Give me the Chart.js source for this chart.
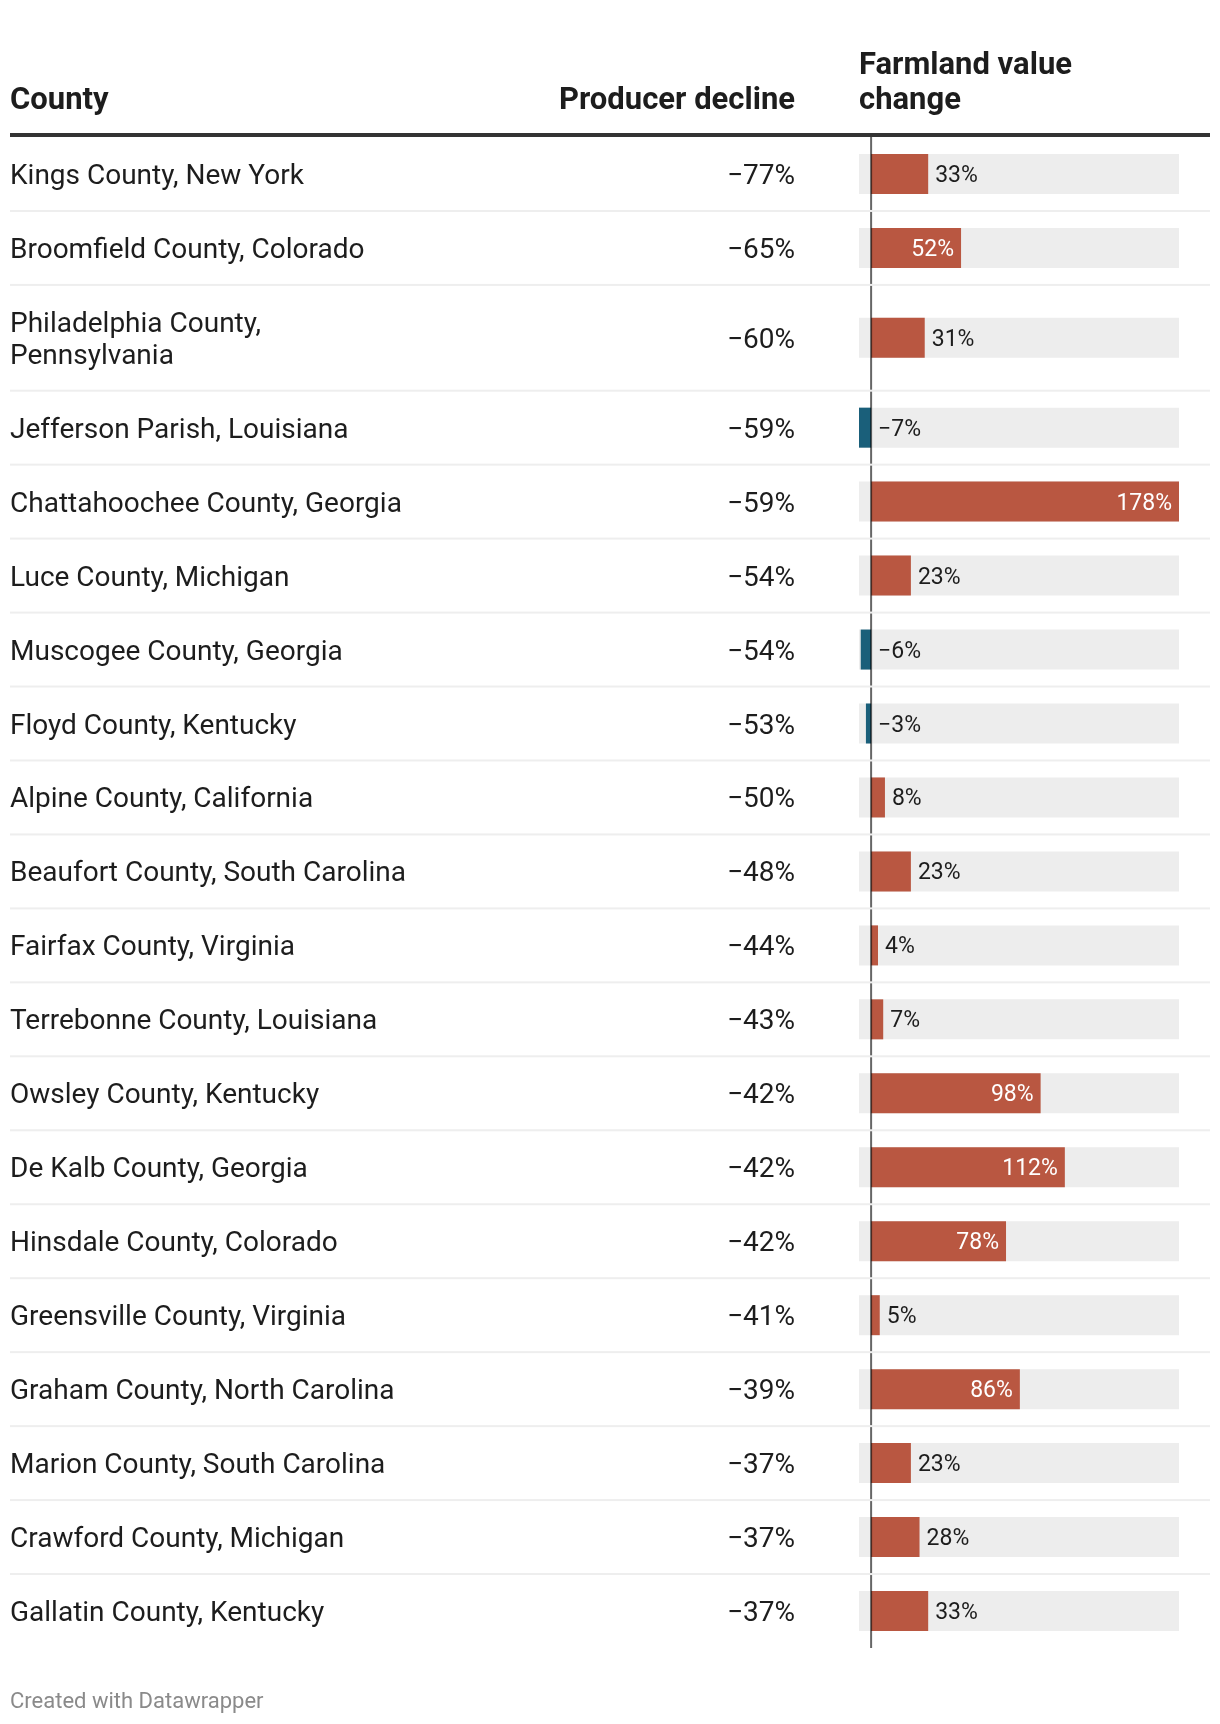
<!DOCTYPE html>
<html>
<head>
<meta charset="utf-8">
<title>Producer decline and farmland value change</title>
<script src="https://cdn.jsdelivr.net/npm/chart.js@4"></script>
<style>
    html, body { margin: 0; padding: 0; background: #ffffff; }
    #wrap { position: relative; width: 1220px; height: 1724px; }
</style>
</head>
<body>
<div id="wrap"><canvas id="table"></canvas></div>
<script>
const counties = [
    "Kings County, New York",
    "Broomfield County, Colorado",
    ["Philadelphia County,", "Pennsylvania"],
    "Jefferson Parish, Louisiana",
    "Chattahoochee County, Georgia",
    "Luce County, Michigan",
    "Muscogee County, Georgia",
    "Floyd County, Kentucky",
    "Alpine County, California",
    "Beaufort County, South Carolina",
    "Fairfax County, Virginia",
    "Terrebonne County, Louisiana",
    "Owsley County, Kentucky",
    "De Kalb County, Georgia",
    "Hinsdale County, Colorado",
    "Greensville County, Virginia",
    "Graham County, North Carolina",
    "Marion County, South Carolina",
    "Crawford County, Michigan",
    "Gallatin County, Kentucky"
];
const producerDecline = [-77, -65, -60, -59, -59, -54, -54, -53, -50, -48, -44, -43, -42, -42, -42, -41, -39, -37, -37, -37];
const farmlandChange = [33, 52, 31, -7, 178, 23, -6, -3, 8, 23, 4, 7, 98, 112, 78, 5, 86, 23, 28, 33];
const headers = ["County", "Producer decline", ["Farmland value", "change"]];
const footer = "Created with Datawrapper";

const FONT = "Roboto, 'Noto Sans', sans-serif";
const TEXT = "#1d1d1d";
const UP = "#b95741";
const DOWN = "#1a5f7a";

// Category scale whose rows grow with the number of text lines in the label
class RowScale extends Chart.CategoryScale {
    static id = "rows";
    static defaults = Chart.CategoryScale.defaults;

    rowWeights() {
        const extra = this.options.extraLine || 0;
        return this.getLabels().map(l => 1 + extra * ((Array.isArray(l) ? l.length : 1) - 1));
    }

    rowEdge(i) {
        const w = this.rowWeights();
        const total = w.reduce((a, b) => a + b, 0);
        const before = w.slice(0, i).reduce((a, b) => a + b, 0);
        return this.top + (this.bottom - this.top) * before / total;
    }

    getPixelForValue(value) {
        if (typeof value !== "number") value = this.parse(value);
        if (value === null || isNaN(value)) return NaN;
        return (this.rowEdge(value) + this.rowEdge(value + 1)) / 2;
    }

    getValueForPixel(pixel) {
        const n = this.getLabels().length;
        for (let i = 0; i < n; i++) {
            if (pixel < this.rowEdge(i + 1)) return i;
        }
        return n - 1;
    }
}
Chart.register(RowScale);

const fmt = v => (v < 0 ? "\u2212" + Math.abs(v) : String(v)) + "%";

// Everything that is text or rule in the table
const tablePlugin = {
    id: "tableText",
    afterDatasetsDraw(chart) {
        const ctx = chart.ctx;
        const x = chart.scales.x;
        const y = chart.scales.y;
        const area = chart.chartArea;
        const zero = x.getPixelForValue(0);
        const nameX = 10;
        const declineX = 795;

        ctx.save();

        // headers
        ctx.fillStyle = TEXT;
        ctx.font = `bold 31px ${FONT}`;
        ctx.textBaseline = "alphabetic";
        ctx.textAlign = "left";
        ctx.fillText(headers[0], nameX, 109);
        ctx.textAlign = "right";
        ctx.fillText(headers[1], declineX, 109);
        ctx.textAlign = "left";
        headers[2].forEach((line, k) => ctx.fillText(line, area.left, 74 + k * 35));

        // header rule
        ctx.fillStyle = "#333333";
        ctx.fillRect(nameX, area.top - 4, 1210 - nameX, 4);

        // zero line
        ctx.fillStyle = "rgba(0,0,0,0.6)";
        ctx.fillRect(zero - 1, area.top, 2, area.bottom - area.top);

        // row separators
        ctx.fillStyle = "#eeeeee";
        for (let i = 1; i < counties.length; i++) {
            ctx.fillRect(nameX, y.rowEdge(i) - 1, 1210 - nameX, 2);
        }

        // county names and producer decline
        ctx.font = `28px ${FONT}`;
        ctx.fillStyle = TEXT;
        counties.forEach((name, i) => {
            const cy = y.getPixelForValue(i);
            const lines = Array.isArray(name) ? name : [name];
            const first = cy + 10 - (lines.length - 1) * 16;
            ctx.textAlign = "left";
            lines.forEach((line, k) => ctx.fillText(line, nameX, first + k * 32));
            ctx.textAlign = "right";
            ctx.fillText(fmt(producerDecline[i]), declineX, cy + 10);
        });

        // bar value labels
        ctx.font = `23px ${FONT}`;
        farmlandChange.forEach((v, i) => {
            const cy = y.getPixelForValue(i) + 8;
            const label = fmt(v);
            const w = ctx.measureText(label).width;
            const end = x.getPixelForValue(v);
            if (v > 0 && end - zero >= w + 20) {
                ctx.fillStyle = "#ffffff";
                ctx.textAlign = "right";
                ctx.fillText(label, end - 7, cy);
            } else {
                ctx.fillStyle = TEXT;
                ctx.textAlign = "left";
                ctx.fillText(label, Math.max(end, zero) + 7, cy);
            }
        });

        // footer
        ctx.font = `22px ${FONT}`;
        ctx.fillStyle = "#8a8a8a";
        ctx.textAlign = "left";
        ctx.fillText(footer, nameX, 1708);

        ctx.restore();
    }
};

const xMin = Math.min(0, ...farmlandChange);
const xMax = Math.max(...farmlandChange);

new Chart(document.getElementById("table"), {
    type: "bar",
    data: {
        labels: counties,
        datasets: [
            {
                label: "Farmland value change",
                data: farmlandChange,
                backgroundColor: farmlandChange.map(v => v < 0 ? DOWN : UP),
                order: 1
            },
            {
                label: "range",
                data: counties.map(() => [xMin, xMax]),
                backgroundColor: "#ededed",
                order: 2
            }
        ]
    },
    options: {
        indexAxis: "y",
        responsive: true,
        maintainAspectRatio: false,
        animation: false,
        events: [],
        layout: { padding: { top: 137, bottom: 76, left: 859, right: 41 } },
        datasets: {
            bar: { grouped: false, maxBarThickness: 40, borderWidth: 0, borderSkipped: false }
        },
        scales: {
            x: { type: "linear", min: xMin, max: xMax, display: false },
            y: { type: "rows", extraLine: 0.43, display: false }
        },
        plugins: {
            legend: { display: false },
            tooltip: { enabled: false }
        }
    },
    plugins: [tablePlugin]
});
</script>
</body>
</html>
